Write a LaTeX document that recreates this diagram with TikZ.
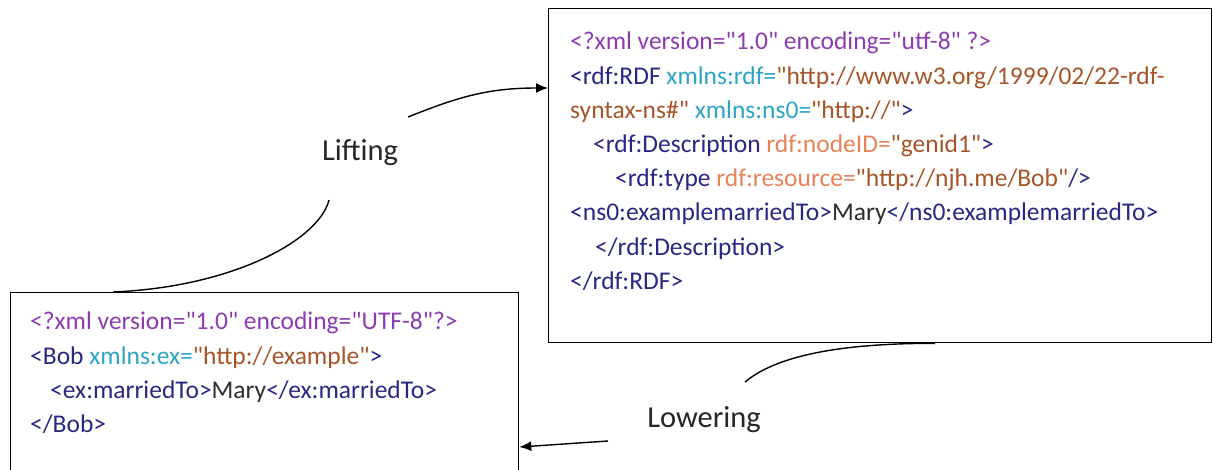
\documentclass[tikz,border=0pt]{standalone}
\usepackage{fontspec}
\setmainfont{Carlito}
\setmonofont{Carlito}
\usetikzlibrary{arrows.meta}
\usetikzlibrary{positioning}
\definecolor{xdecl}{RGB}{140,60,175}
\definecolor{xtag}{RGB}{40,40,130}
\definecolor{xattr}{RGB}{45,165,195}
\definecolor{xval}{RGB}{165,85,40}
\definecolor{xrdf}{RGB}{230,130,85}
\definecolor{xtext}{RGB}{45,45,45}
\newcommand{\declc}[1]{\textcolor{xdecl}{#1}}
\newcommand{\tagc}[1]{\textcolor{xtag}{#1}}
\newcommand{\attc}[1]{\textcolor{xattr}{#1}}
\newcommand{\valc}[1]{\textcolor{xval}{#1}}
\newcommand{\rdfc}[1]{\textcolor{xrdf}{#1}}
\newcommand{\txtc}[1]{\textcolor{xtext}{#1}}
\tikzset{codebox/.style = {draw, line width=1.3pt, inner sep=0pt, anchor=north west},
         code/.style = {anchor=north west, align=left, inner sep=0pt,
                        font=\ttfamily\fontsize{25.5}{34.2}\selectfont},
         opname/.style = {inner sep=0pt, text=black!85,
                          font=\fontsize{30.5}{34}\selectfont},
         link/.style = {line width=1.4pt},
         tip/.style = {-{Latex[length=12pt, width=10pt]}}}

\begin{document}
\begin{tikzpicture}[x=1pt, y=-1pt]
    \useasboundingbox (0, 0) rectangle (1213, 469);

    % the two documents
    \node [codebox, minimum width=663pt, minimum height=334pt] (rdfbox) at (548, 8) {};
    \node [codebox, minimum width=508pt, minimum height=190pt] (bobbox) at (10, 292) {};

    \node [code] (rdftext) at (570, 32) {%
      \declc{<?xml version="1.0" encoding="utf-8" ?>}\\
      \tagc{<rdf:RDF} \attc{xmlns:rdf=}\valc{"http://www.w3.org/1999/02/22-rdf-}\\
      \valc{syntax-ns\#"} \attc{xmlns:ns0=}\valc{"http://"}\tagc{>}\\
      \hspace*{23pt}\tagc{<rdf:Description} \rdfc{rdf:nodeID=}\valc{"genid1"}\tagc{>}\\
      \hspace*{45pt}\tagc{<rdf:type} \rdfc{rdf:resource=}\valc{"http://njh.me/Bob"}\tagc{/>}\\
      \tagc{<ns0:examplemarriedTo>}\txtc{Mary}\tagc{</ns0:examplemarriedTo>}\\
      \hspace*{25pt}\tagc{</rdf:Description>}\\
      \tagc{</rdf:RDF>}};

    \node [code] (bobtext) at (30, 312) {%
      \declc{<?xml version="1.0" encoding="UTF-8"?>}\\
      \tagc{<Bob} \attc{xmlns:ex=}\valc{"http://example"}\tagc{>}\\
      \hspace*{20pt}\tagc{<ex:marriedTo>}\txtc{Mary}\tagc{</ex:marriedTo>}\\
      \tagc{</Bob>}};

    % the two steps
    \node [opname] (lift) at (360, 153) {Lifting};
    \node [opname] (lower) at (704, 420) {Lowering};

    \coordinate (liftlo) at (329, 200);
    \coordinate (lifthi) at (408, 117);
    \coordinate (lowhi) at (745, 382);
    \coordinate (lowlo) at (608, 441);

    \draw [link] ([xshift=103pt]bobbox.north west) .. controls +(120, -5) and +(-10, 40) .. (liftlo);
    \draw [link, tip] (lifthi) .. controls +(50, -20) and +(-60, 0) .. ([yshift=-80pt]rdfbox.north west);

    \draw [link] (lowhi) .. controls +(30, -25) and +(-100, 0) .. ([xshift=387pt]rdfbox.south west);
    \draw [link, tip] (lowlo) .. controls +(-30, 2) and +(30, -2) .. ([yshift=-155pt]bobbox.north east);
  \end{tikzpicture}
\end{document}
